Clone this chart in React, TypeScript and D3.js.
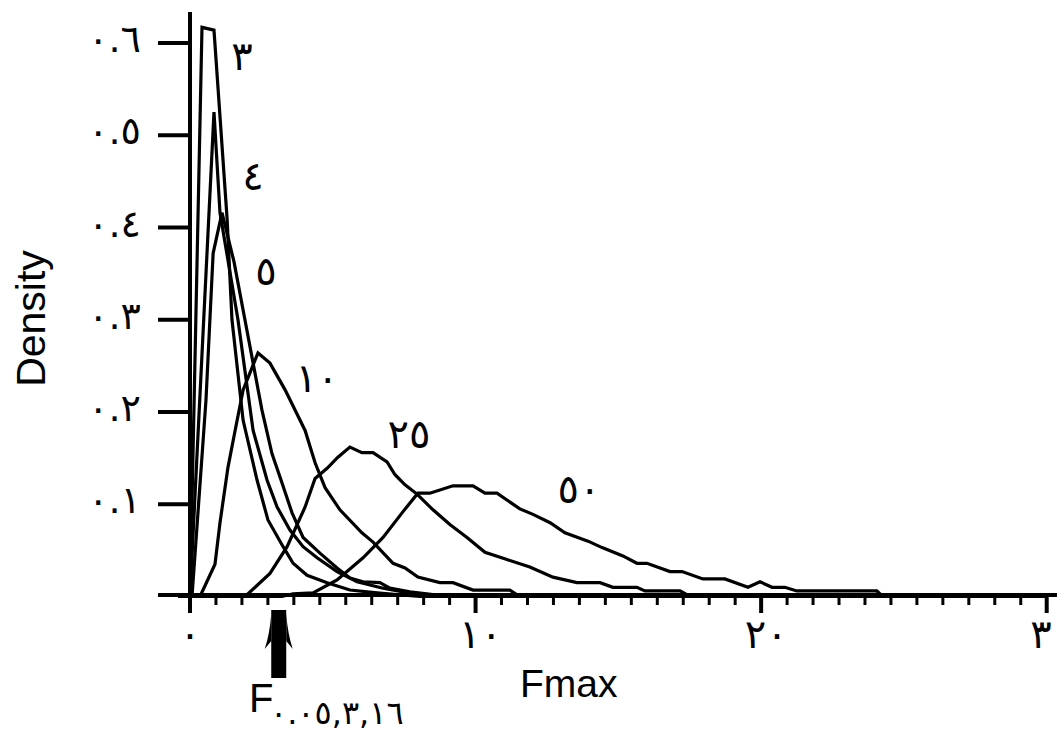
import React from 'react';
import * as d3 from 'd3';

// Density curves of Fmax, one per degrees-of-freedom value: [Fmax, density]
const df3: number[][] = [[0,0],[0.42,0.617],[0.84,0.614],[1.30,0.409],[1.47,0.300],[1.86,0.191],[2.35,0.126],[2.73,0.083],[3.26,0.054],[3.61,0.036],[4.10,0.023],[4.80,0.015],[5.60,0.007],[6.55,0.004],[8.05,0],[30,0]];
const df4: number[][] = [[0,0],[0.84,0.525],[1.05,0.416],[1.68,0.300],[2.21,0.180],[2.70,0.126],[3.05,0.097],[3.50,0.072],[3.96,0.054],[4.45,0.042],[5.15,0.027],[5.85,0.016],[6.76,0.009],[7.46,0.005],[8.75,0],[30,0]];
const df5: number[][] = [[0.07,0],[0.56,0.213],[0.81,0.372],[1.12,0.416],[1.54,0.363],[1.96,0.294],[2.52,0.202],[2.87,0.155],[3.19,0.126],[3.57,0.091],[3.96,0.064],[4.55,0.047],[5.15,0.031],[5.60,0.020],[6.06,0.016],[6.65,0.015],[7.00,0.009],[7.70,0.005],[9.10,0],[30,0]];
const df10: number[][] = [[0.35,0],[0.875,0.035],[1.05,0.080],[1.33,0.140],[1.58,0.180],[1.86,0.224],[2.38,0.264],[2.80,0.253],[3.33,0.224],[4.03,0.180],[4.38,0.145],[4.73,0.118],[5.25,0.094],[6.02,0.069],[6.41,0.059],[7.11,0.036],[7.53,0.031],[7.98,0.021],[8.75,0.015],[9.21,0.015],[9.91,0.007],[11.20,0.007],[11.55,0],[30,0]];
const df25: number[][] = [[1.93,0],[2.80,0.025],[3.40,0.054],[4.03,0.097],[4.38,0.128],[4.80,0.139],[5.18,0.151],[5.60,0.162],[6.02,0.156],[6.41,0.156],[6.90,0.146],[7.18,0.132],[7.53,0.121],[7.95,0.111],[8.51,0.094],[9.10,0.078],[9.70,0.064],[10.33,0.048],[11.10,0.040],[11.90,0.032],[12.71,0.021],[13.55,0.015],[14.36,0.015],[14.81,0.010],[15.65,0.010],[15.93,0.006],[17.16,0.006],[17.51,0],[30,0]];
const df50: number[][] = [[-0.42,0],[3.22,0],[3.61,0.003],[4.31,0.004],[5.15,0.018],[6.06,0.042],[6.76,0.064],[7.46,0.092],[7.98,0.112],[8.40,0.112],[9.21,0.120],[9.91,0.120],[10.33,0.112],[10.75,0.112],[11.55,0.095],[12.01,0.089],[12.61,0.080],[13.13,0.069],[13.94,0.060],[14.43,0.053],[15.16,0.044],[15.65,0.036],[16.00,0.036],[16.81,0.027],[17.23,0.027],[17.96,0.019],[18.73,0.019],[19.54,0.010],[19.96,0.016],[20.38,0.010],[20.83,0.010],[21.25,0.006],[24.05,0.006],[24.26,0],[30,0]];

const curveNames = ['٣', '٤', '٥', '١٠', '٢٥', '٥٠'];
// label anchor (Fmax, density) of each curve name
const curveLabelX = [1.82, 2.21, 2.66, 4.45, 7.67, 13.62];
const curveLabelY = [0.571, 0.441, 0.338, 0.222, 0.161, 0.101];

const yTicks = [0.1, 0.2, 0.3, 0.4, 0.5, 0.6];
const yTickLabels = ['٠.١', '٠.٢', '٠.٣', '٠.٤', '٠.٥', '٠.٦'];
const xTicks = [0, 10, 20, 30];
const xTickLabels = ['٠', '١٠', '٢٠', '٣٠'];
const minorStep = 10 / 11;

const fCrit = 3.16;
const fCritLabel = '٠.٠٥,٣,١٦';

const FONT_AR = "'DejaVu Sans', sans-serif";
const FONT_LAT = "'Liberation Sans', Arial, sans-serif";

export default function App() {
  const x = d3.scaleLinear().domain([0, 30]).range([190, 1046.7]);
  const y = d3.scaleLinear().domain([0, 0.6]).range([596.5, 43]);
  const line = d3.line<number[]>().x(d => x(d[0])).y(d => y(d[1]));
  const series = [df3, df4, df5, df10, df25, df50];
  const axisY = y(0) - 1.5;
  const minor = d3.range(0, 34).filter(k => k % 11 !== 0).map(k => k * minorStep);
  const cx = x(fCrit) - 1.5;

  return (
    <svg width={1057} height={735} style={{ position: 'absolute', left: 0, top: 0, background: '#fff' }}>
      <rect x={0} y={0} width={1057} height={735} fill="#fff" />
      {/* curves */}
      <g fill="none" stroke="#000" strokeWidth={3.2} strokeLinejoin="miter">
        {series.map((s, i) => <path key={i} d={line(s) || ''} />)}
      </g>
      {/* axes */}
      <line x1={190} x2={190} y1={12} y2={613} stroke="#000" strokeWidth={4} />
      <line x1={158} x2={1057} y1={axisY} y2={axisY} stroke="#000" strokeWidth={4} />
      {yTicks.map((t, i) => (
        <line key={'yt' + i} x1={158} x2={190} y1={y(t)} y2={y(t)} stroke="#000" strokeWidth={4} />
      ))}
      {xTicks.map((t, i) => (
        <line key={'xt' + i} x1={x(t)} x2={x(t)} y1={axisY} y2={613} stroke="#000" strokeWidth={4} />
      ))}
      {minor.map((t, i) => (
        <line key={'xm' + i} x1={x(t)} x2={x(t)} y1={axisY} y2={605} stroke="#000" strokeWidth={3} />
      ))}
      {/* tick labels */}
      <g fontFamily={FONT_AR} fill="#000">
        {yTicks.map((t, i) => (
          <text key={'yl' + i} x={141} y={y(t) + 9} textAnchor="end" fontSize={38} letterSpacing={-1}>{yTickLabels[i]}</text>
        ))}
        {xTicks.map((t, i) => (
          <text key={'xl' + i} x={x(t) + (i === 0 ? 0 : 5)} y={648} textAnchor="middle" fontSize={40}>{xTickLabels[i]}</text>
        ))}
        {curveNames.map((n, i) => (
          <text key={'cl' + i} x={x(curveLabelX[i])} y={y(curveLabelY[i])} textAnchor="middle" fontSize={40}>{n}</text>
        ))}
      </g>
      {/* axis titles */}
      <text x={45} y={318.5} transform="rotate(-90 45 318.5)" textAnchor="middle" fontFamily={FONT_LAT} fontSize={41}>Density</text>
      <text x={520} y={697} fontFamily={FONT_LAT} fontSize={39}>Fmax</text>
      {/* critical value arrow */}
      <rect x={cx - 7.5} y={610} width={15} height={68} fill="#000" />
      <path d={`M${cx - 7.5},614 Q${cx - 9},634 ${cx - 14},649 L${cx - 7.5},641 Z`} fill="#000" />
      <path d={`M${cx + 7.5},614 Q${cx + 9},634 ${cx + 14},649 L${cx + 7.5},641 Z`} fill="#000" />
      <text x={249} y={712} fontFamily={FONT_LAT} fontSize={40}>F</text>
      <text x={270} y={724} fontFamily={FONT_AR} fontSize={32} letterSpacing={-1}>{fCritLabel}</text>
    </svg>
  );
}
